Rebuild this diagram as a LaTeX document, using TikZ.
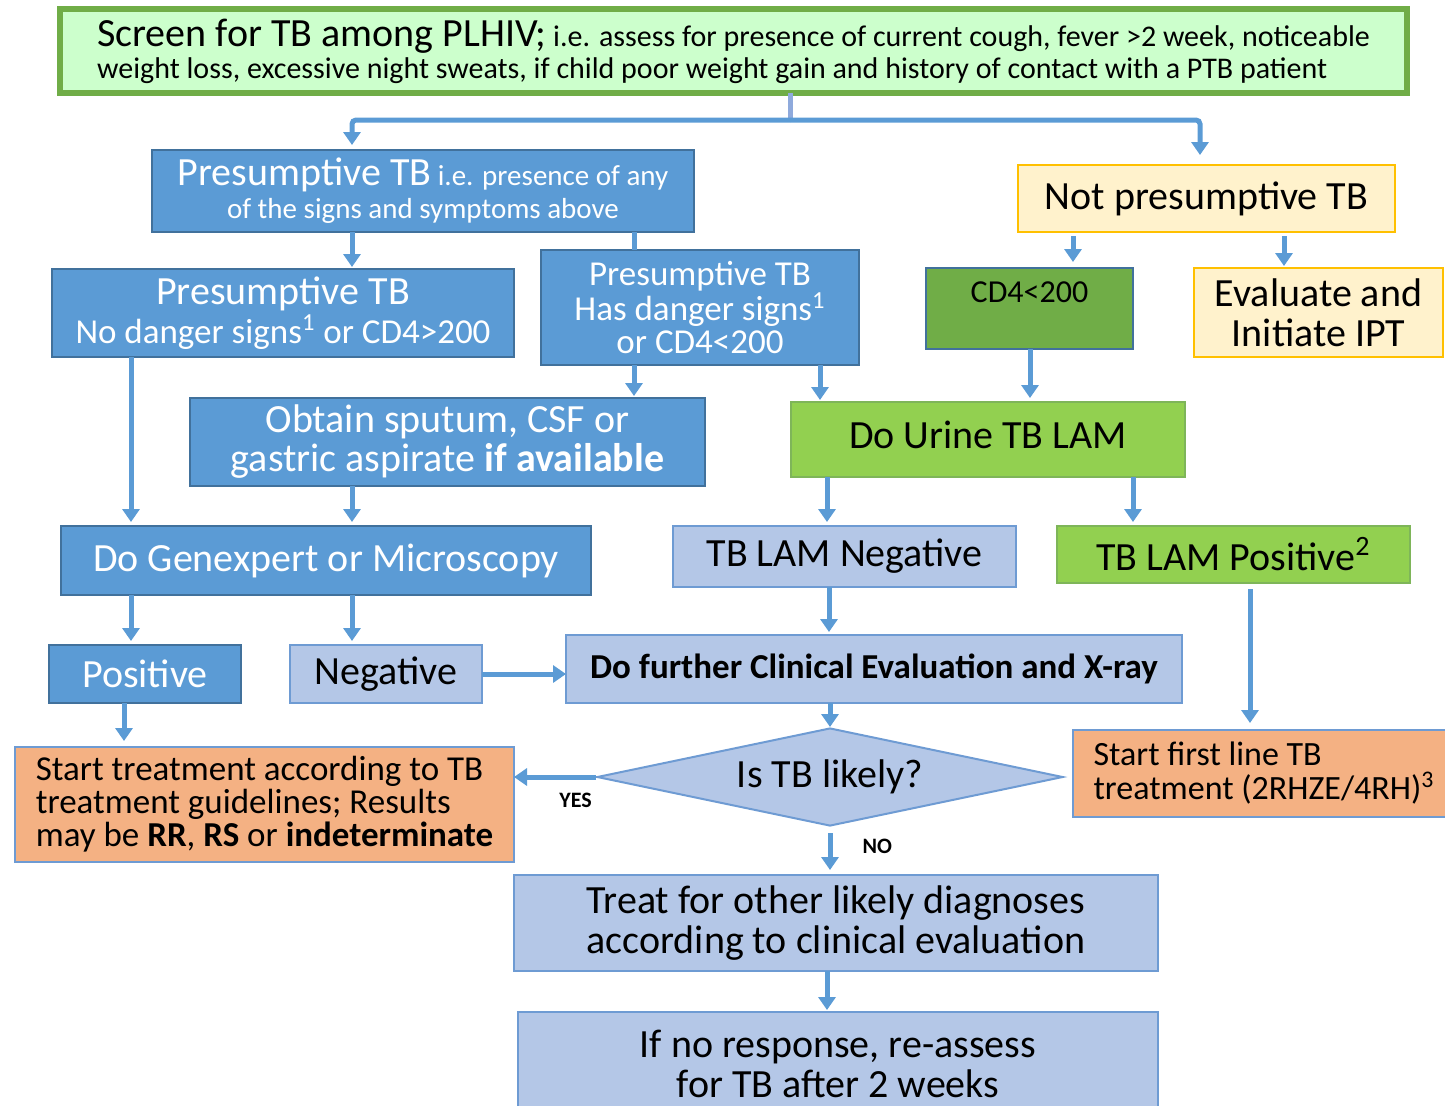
\documentclass[tikz,border=0pt]{standalone}
\usepackage{fontspec}
\setmainfont{Carlito}
\usetikzlibrary{arrows.meta,shapes.geometric,calc}
\definecolor{dblue}{HTML}{5B9BD5}
\definecolor{dbord}{HTML}{41719C}
\definecolor{lblue}{HTML}{B4C7E7}
\definecolor{lbord}{HTML}{6E9BD3}
\definecolor{lgreen}{HTML}{CCFFCC}
\definecolor{gbord}{HTML}{70AD47}
\definecolor{bgreen}{HTML}{92D050}
\definecolor{mgreen}{HTML}{70AD47}
\definecolor{yfill}{HTML}{FFF2CC}
\definecolor{ybord}{HTML}{FFC000}
\definecolor{ofill}{HTML}{F4B183}
\definecolor{arrc}{HTML}{5B9BD5}
\definecolor{stubc}{HTML}{8FAADC}
\newcommand{\fs}[2]{\fontsize{#1}{#2}\selectfont}
\newcommand{\bx}[7]{\node[#6, minimum width={(#4-(#2))*0.5pt}, minimum height={(#5-(#3))*0.5pt}] (#1) at ({(#2+#4)/2},{(#3+#5)/2}) {#7};}
\begin{document}
\begin{tikzpicture}[x=0.5pt,y=-0.5pt,
 box/.style={rectangle, inner sep=0pt, outer sep=0pt, align=center, line width=1pt},
 dbox/.style={box, fill=dblue, draw=dbord, text=white},
 lbox/.style={box, fill=lblue, draw=lbord, text=black},
 gbox/.style={box, fill=bgreen, draw=gbord!90, text=black},
 ybox/.style={box, fill=yfill, draw=ybord, text=black},
 obox/.style={box, fill=ofill, draw=lbord, text=black},
 arr/.style={draw=arrc, line width=2.5pt, -{Triangle[width=8.5pt,length=6.5pt]}},
 ln/.style={draw=arrc, line width=2.5pt},
 stub/.style={draw=stubc, line width=2.5pt},
 lab/.style={font=\fs{11}{11}\bfseries, text=black, inner sep=0pt},
]
\useasboundingbox (0,0) rectangle (1445,1105);
\clip (0,0) rectangle (1445,1105);

% top box
\node[box, fill=lgreen, draw=gbord, line width=3pt, align=left,
      minimum width=673.5pt, minimum height=42pt, font=\fs{15}{16}] (top) at (733.5,51)
 {{\fontsize{20}{16}\selectfont Screen for TB among PLHIV;} i.e. assess for presence of current cough, fever >2 week, noticeable\\
  weight loss, excessive night sweats, if child poor weight gain and history of contact with a PTB patient};

\bx{pres}{152}{150}{694}{232}{dbox, font=\fs{14.5}{16.5}}{{\fontsize{20}{16.5}\selectfont Presumptive TB} i.e. presence of any\\of the signs and symptoms above}
\node[ybox, font=\fs{20}{20}, minimum width=188.5pt, minimum height=33.5pt] (notp) at (1206.5,198.5) {\raisebox{2.5pt}{Not presumptive TB}};
\bx{nod}{52}{269}{514}{357}{dbox, font=\fs{17.5}{19.5}}{{\fontsize{20}{19.5}\selectfont Presumptive TB}\\No danger signs\textsuperscript{1} or CD4>200}
\bx{dang}{541}{250}{859}{365}{dbox, font=\fs{17.5}{16.5}}{Presumptive TB\\Has danger signs\textsuperscript{1}\\or CD4<200}
\bx{cd4}{926}{268}{1133}{349}{box, fill=mgreen, draw=dbord}{}
\node[font=\fs{16}{16}, inner sep=0pt] (cd4t) at ($(cd4.north)+(0,24)$) {CD4<200};
\bx{ipt}{1194}{268}{1443}{357}{ybox, font=\fs{20}{20}}{Evaluate and\\Initiate IPT}
\bx{obt}{190}{398}{705}{486}{dbox, font=\fs{20}{19.5}}{Obtain sputum, CSF or\\gastric aspirate \textbf{if available}}
\bx{urine}{791}{402}{1185}{477}{gbox, font=\fs{20}{20}}{\raisebox{5pt}{Do Urine TB LAM}}
\bx{genx}{61}{526}{591}{595}{dbox, font=\fs{20}{20}}{\raisebox{2.5pt}{Do Genexpert or Microscopy}}
\bx{lamneg}{673}{526}{1016}{587}{lbox, font=\fs{20}{20}}{TB LAM Negative}
\bx{lampos}{1057}{526}{1410}{583}{gbox, font=\fs{20}{20}}{TB LAM Positive\textsuperscript{2}}
\bx{pos}{49}{645}{241}{703}{dbox, font=\fs{20}{20}}{Positive}
\bx{neg}{290}{645}{482}{703}{lbox, font=\fs{20}{20}}{Negative}
\bx{fur}{566}{635}{1182}{703}{lbox, font=\fs{17.5}{17.5}\bfseries}{Do further Clinical Evaluation and X-ray}
\bx{st}{15}{747}{514}{862}{obox, align=left, font=\fs{17.5}{16.5}}{Start treatment according to TB\\treatment guidelines; Results\\may be \textbf{RR}, \textbf{RS} or \textbf{indeterminate}}
\node[diamond, aspect=4.75, fill=lblue, draw=lbord, line width=1pt, inner sep=0pt,
      minimum width=233pt, minimum height=49pt, font=\fs{20}{20}] (dia) at (830,777) {Is TB likely?};
\bx{fl}{1073}{730}{1455}{817}{obox, align=left, font=\fs{17}{17}}{Start first line TB\\treatment (2RHZE/4RH)\textsuperscript{3}}
\bx{treat}{514}{875}{1158}{971}{lbox, font=\fs{20}{20}}{Treat for other likely diagnoses\\according to clinical evaluation}
\bx{ifno}{518}{1012}{1158}{1115}{lbox, font=\fs{20}{20}}{If no response, re-assess\\for TB after 2 weeks}

% connectors
\coordinate (br) at (790,120);
\draw[stub] (top.south -| br) -- (br);
\draw[arr, rounded corners=2pt, shorten >=2.5pt] (br) -| (pres.north -| 352,0);
\draw[arr, rounded corners=2pt, shorten >=5pt] (br) -| (notp.north -| 1200,0);
\draw[arr, shorten >=1pt] (pres.south -| 352,0) -- (nod.north -| 352,0);
\draw[ln] (pres.south -| 634,0) -- (dang.north -| 634,0);
\draw[arr, shorten <=2pt, shorten >=3pt] (notp.south -| 1073,0) -- (cd4.north -| 1073,0);
\draw[arr, shorten <=2pt, shorten >=1pt] (notp.south -| 1284,0) -- (ipt.north -| 1284,0);
\draw[arr, shorten >=1pt] (dang.south -| 634,0) -- (obt.north -| 634,0);
\draw[arr, shorten >=1pt] (dang.south -| 820,0) -- (urine.north -| 820,0);
\draw[arr, shorten >=2pt] (cd4.south -| 1030,0) -- (urine.north -| 1030,0);
\draw[arr, shorten >=2pt] (nod.south -| 131,0) -- (genx.north -| 131,0);
\draw[arr, shorten >=2pt] (obt.south -| 352,0) -- (genx.north -| 352,0);
\draw[arr, shorten >=2pt] (urine.south -| 827,0) -- (lamneg.north -| 827,0);
\draw[arr, shorten >=2pt] (urine.south -| 1133,0) -- (lampos.north -| 1133,0);
\draw[arr, shorten >=2pt] (genx.south -| 131,0) -- (pos.north -| 131,0);
\draw[arr, shorten >=2pt] (genx.south -| 352,0) -- (neg.north -| 352,0);
\draw[arr, shorten >=1.5pt] (lamneg.south -| 829,0) -- (fur.north -| 829,0);
\draw[arr] (neg.east) -- (neg.east -| fur.west);
\draw[arr, shorten <=3pt, shorten >=3.5pt] (lampos.south -| 1250,0) -- (fl.north -| 1250,0);
\draw[arr, shorten >=3pt] (pos.south -| 124,0) -- (st.north -| 124,0);
\draw[arr] (fur.south -| dia.north) -- (dia.north);
\draw[arr] (dia.west) -- (st.east |- dia.west) node[lab, pos=0.25, yshift=-11.5pt] (yes) {YES};
\draw[arr, shorten <=3pt, shorten >=2.5pt] (dia.south) -- (treat.north -| dia.south) node[lab, pos=0.4, anchor=west, xshift=15pt] (no) {NO};
\draw[arr, shorten >=1pt] (treat.south -| 827,0) -- (ifno.north -| 827,0);
\end{tikzpicture}
\end{document}
